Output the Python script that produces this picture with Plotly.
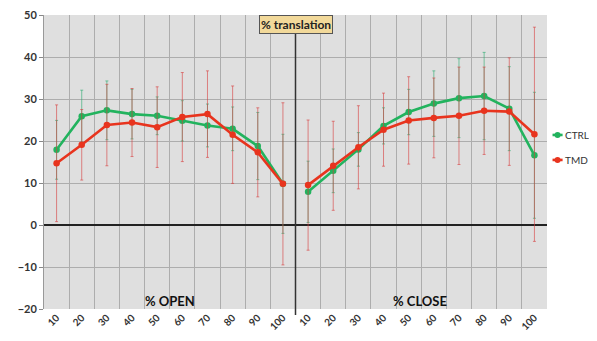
import plotly.graph_objects as go

tick_labels = ["10", "20", "30", "40", "50", "60", "70", "80", "90", "100"]

ctrl_open = [17.9, 25.9, 27.3, 26.4, 26.0, 24.8, 23.7, 22.9, 18.8, 9.8]
ctrl_close = [7.9, 12.9, 18.0, 23.6, 26.9, 28.9, 30.2, 30.7, 27.7, 16.6]
tmd_open = [14.7, 19.1, 23.8, 24.4, 23.3, 25.7, 26.4, 21.5, 17.3, 9.8]
tmd_close = [9.5, 14.1, 18.5, 22.7, 24.9, 25.5, 26.0, 27.2, 27.0, 21.6]

ctrl_open_err = [7.0, 6.2, 7.0, 5.9, 4.5, 4.8, 5.1, 5.2, 8.0, 11.8]
ctrl_close_err = [7.3, 5.2, 4.0, 4.3, 5.4, 7.8, 9.4, 10.4, 10.0, 15.0]
tmd_open_err = [13.9, 8.4, 9.7, 8.1, 9.6, 10.6, 10.3, 11.6, 10.6, 19.3]
tmd_close_err = [15.5, 10.6, 9.9, 8.7, 10.4, 9.5, 11.6, 10.4, 12.8, 25.5]

GREEN = "#22b35e"
RED = "#e8341e"

n = len(tick_labels)
x_open = list(range(1, n + 1))
x_close = list(range(n + 1, 2 * n + 1))
x_all = x_open + [n + 0.5] + x_close


def join(a, b):
    return list(a) + [None] + list(b)


fig = go.Figure()

series = [
    ("CTRL", ctrl_open, ctrl_close, ctrl_open_err, ctrl_close_err, GREEN, "rgba(40,170,110,0.6)", 0.592),
    ("TMD", tmd_open, tmd_close, tmd_open_err, tmd_close_err, RED, "rgba(215,60,60,0.6)", 0.507),
]
for name, yo, yc, eo, ec, col, ecol, ly in series:
    fig.add_trace(go.Scatter(
        x=x_all, y=join(yo, yc), name=name, mode="lines+markers",
        connectgaps=False, showlegend=False,
        line=dict(color=col, width=2.6),
        marker=dict(color=col, size=6.5),
        error_y=dict(type="data", array=join(eo, ec), visible=True,
                     color=ecol, thickness=1, width=1.5),
    ))
    # legend entry (drawn manually so it fits in the narrow right margin)
    fig.add_shape(type="line", xref="paper", yref="paper", x0=1.011, x1=1.031, y0=ly, y1=ly,
                  line=dict(color=col, width=2.6))
    fig.add_shape(type="circle", xref="paper", yref="paper", xsizemode="pixel", ysizemode="pixel",
                  xanchor=1.021, yanchor=ly, x0=-3, x1=3, y0=-3, y1=3,
                  fillcolor=col, line=dict(color=col, width=0))
    fig.add_annotation(x=1.032, y=ly, xref="paper", yref="paper", text=name, showarrow=False,
                       xanchor="left", yanchor="middle", font=dict(size=10, color="#333"))

fig.update_layout(
    width=589, height=333,
    margin=dict(l=36, r=50, t=7, b=32, autoexpand=False),
    paper_bgcolor="white",
    plot_bgcolor="#dfdfdf",
    font=dict(family="Lato, Liberation Sans, sans-serif", color="#333"),
    showlegend=False,
    xaxis=dict(
        automargin=False,
        range=[0.5, 2 * n + 0.5],
        tickmode="array", tickvals=x_open + x_close, ticktext=tick_labels + tick_labels,
        tickangle=-45, tickfont=dict(size=10, color="#333", family="Lato, sans-serif", weight="bold"),
        ticklabeloverflow="allow",
        showgrid=False, zeroline=False, ticks="",
        minor=dict(tickmode="linear", tick0=0.5, dtick=1, showgrid=True,
                   gridcolor="#adadad", gridwidth=1),
        showline=False,
    ),
    yaxis=dict(
        automargin=False,
        range=[-20, 50], dtick=10, tick0=0,
        tickfont=dict(size=11, color="#333", family="Lato, sans-serif", weight="bold"),
        ticklabeloverflow="allow",
        showgrid=True, gridcolor="#adadad", gridwidth=1,
        zeroline=True, zerolinecolor="#222", zerolinewidth=1.5,
        ticks="outside", ticklen=4, tickcolor="#888",
        showline=True, linecolor="#999", linewidth=1,
    ),
)

fig.add_shape(type="line", xref="x", yref="paper", x0=n + 0.5, x1=n + 0.5, y0=-0.02, y1=1,
              line=dict(color="#333", width=1.5))

fig.add_annotation(x=n + 0.5, y=0.966, xref="x", yref="paper", yanchor="middle",
                   text="<b>% translation</b>",
                   showarrow=False, font=dict(size=12, color="#222"),
                   bgcolor="#f2d99a", bordercolor="#555", borderwidth=1, borderpad=1)
fig.add_annotation(x=5.5, y=-18, xref="x", yref="y", text="<b>% OPEN</b>",
                   showarrow=False, font=dict(size=13, color="#111"))
fig.add_annotation(x=15.45, y=-18, xref="x", yref="y", text="<b>% CLOSE</b>",
                   showarrow=False, font=dict(size=13, color="#111"))

fig.write_html("out.html")
